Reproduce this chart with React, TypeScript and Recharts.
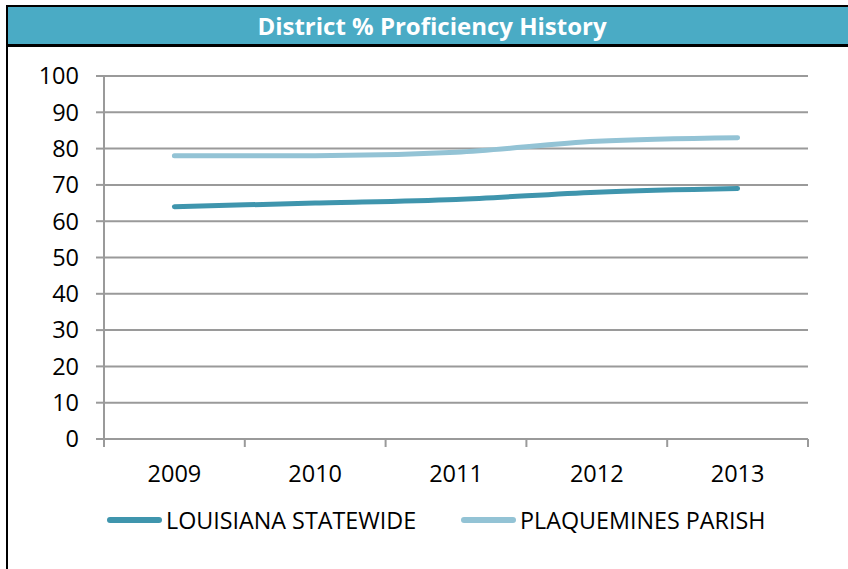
import React from "react";
import { LineChart, Line, XAxis, YAxis, CartesianGrid, Legend } from "recharts";

const years = ["2009", "2010", "2011", "2012", "2013"];
const louisiana = [64, 65, 66, 68, 69];
const plaquemines = [78, 78, 79, 82, 83];
const yTicks = [0, 10, 20, 30, 40, 50, 60, 70, 80, 90, 100];
const seriesNames = ["LOUISIANA STATEWIDE", "PLAQUEMINES PARISH"];
const title = "District % Proficiency History";

const data = years.map((y, i) => ({ year: y, la: louisiana[i], pp: plaquemines[i] }));

const C_LA = "#3F95AD";
const C_PP = "#93C3D5";
const GRID = "#9a9a9a";
const FONT = "'Open Sans', sans-serif";

const XTick = (props: any) => {
  const { x, y, payload, index, visibleTicksCount } = props;
  const off = payload.offset || 0;
  return (
    <g>
      <line x1={x - off} y1={y} x2={x - off} y2={y + 8} stroke={GRID} strokeWidth={2} />
      {index === visibleTicksCount - 1 && (
        <line x1={x + off} y1={y} x2={x + off} y2={y + 8} stroke={GRID} strokeWidth={2} />
      )}
      <text x={x} y={y + 43} textAnchor="middle" fill="#000" fontSize={23.5} fontFamily={FONT}>
        {payload.value}
      </text>
    </g>
  );
};

const LegendContent = () => {
  const colors = [C_LA, C_PP];
  return (
    <div style={{ display: "flex", alignItems: "center", fontFamily: FONT, fontSize: 23.3, color: "#000" }}>
      {seriesNames.map((n, i) => (
        <div key={n} style={{ display: "flex", alignItems: "center", marginRight: i === 0 ? 45 : 0 }}>
          <div style={{ width: 55, height: 6, borderRadius: 3, background: colors[i], marginRight: 4 }} />
          <span style={{ lineHeight: "26px" }}>{n}</span>
        </div>
      ))}
    </div>
  );
};

export default function App() {
  return (
    <div style={{ position: "fixed", left: 0, top: 0, width: 848, height: 569, overflow: "hidden", background: "#fff" }}>
      <div
        style={{
          position: "absolute",
          left: 6,
          top: 5,
          width: 900,
          height: 700,
          border: "2px solid #000",
          boxSizing: "border-box",
        }}
      />
      <div
        style={{
          position: "absolute",
          left: 8,
          top: 7,
          width: 900,
          height: 37,
          background: "#4AABC5",
          borderBottom: "3px solid #000",
        }}
      />
      <div
        style={{
          position: "absolute",
          left: 8,
          top: 7,
          width: 848,
          height: 37,
          lineHeight: "37px",
          textAlign: "center",
          color: "#fff",
          fontWeight: 700,
          fontSize: 24,
          fontFamily: FONT,
          boxSizing: "border-box",
        }}
      >
        {title}
      </div>
      <div style={{ position: "absolute", left: 0, top: 0 }}>
        <LineChart width={848} height={569} data={data} margin={{ top: 76, right: 40, bottom: 90, left: 44 }}>
          <CartesianGrid vertical={false} stroke={GRID} strokeWidth={2} />
          <XAxis
            dataKey="year"
            scale="band"
            height={40}
            tickLine={false}
            tickSize={0}
            tickMargin={0}
            axisLine={{ stroke: GRID, strokeWidth: 2 }}
            tick={<XTick />}
            interval={0}
          />
          <YAxis
            domain={[0, 100]}
            ticks={yTicks}
            width={60}
            tickSize={8}
            tickMargin={17}
            axisLine={{ stroke: GRID, strokeWidth: 2 }}
            tickLine={{ stroke: GRID, strokeWidth: 2 }}
            tick={{ fill: "#000", fontSize: 23.5, fontFamily: FONT }}
            interval={0}
          />
          <Legend
            layout="horizontal"
            verticalAlign="middle"
            align="center"
            content={<LegendContent />}
            wrapperStyle={{ top: 507, left: 107, width: 740 }}
          />
          <Line type="monotone" dataKey="la" name={seriesNames[0]} stroke={C_LA} strokeWidth={5} dot={false} isAnimationActive={false} strokeLinecap="round" />
          <Line type="monotone" dataKey="pp" name={seriesNames[1]} stroke={C_PP} strokeWidth={5} dot={false} isAnimationActive={false} strokeLinecap="round" />
        </LineChart>
      </div>
    </div>
  );
}
